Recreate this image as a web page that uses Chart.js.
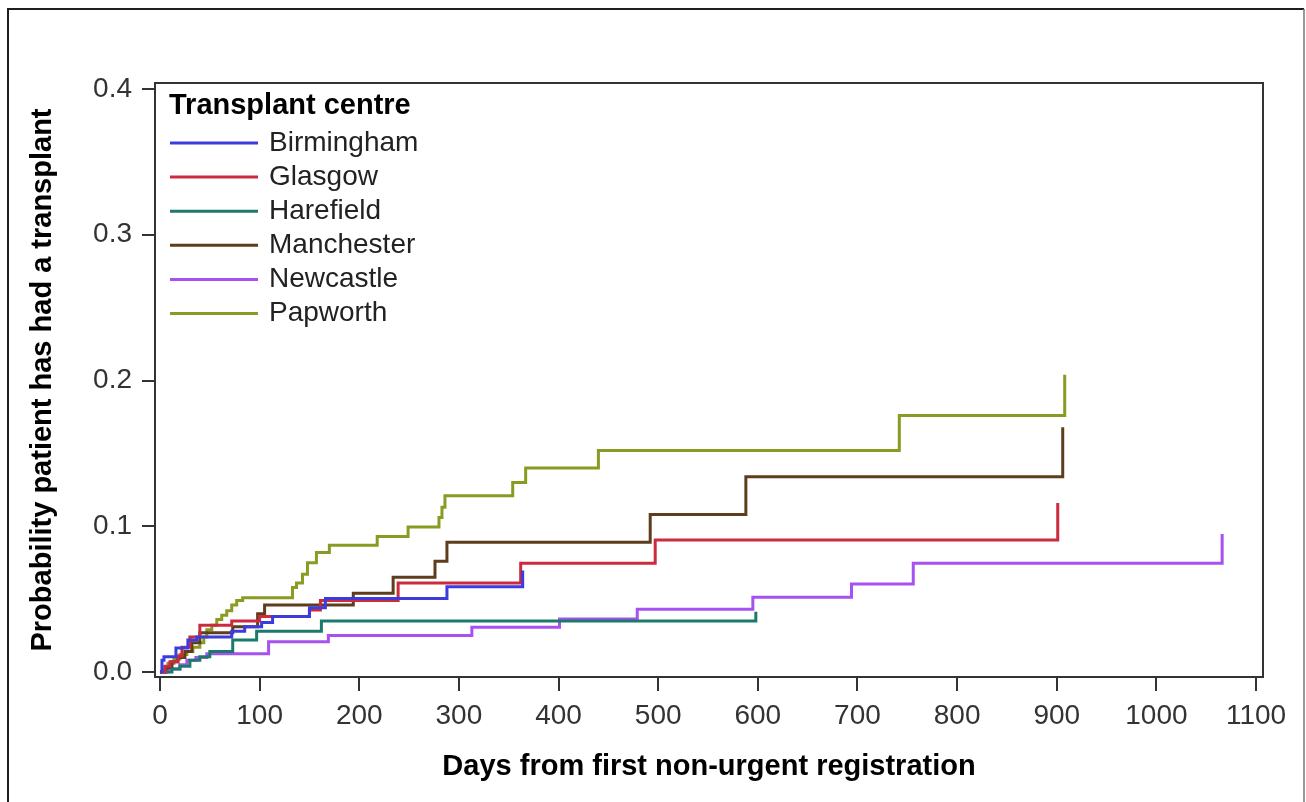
<!DOCTYPE html>
<html>
<head>
<meta charset="utf-8">
<script src="https://cdn.jsdelivr.net/npm/chart.js@4.4.1/dist/chart.umd.min.js"></script>
<style>
  body { margin: 0; background: #fff; }
  canvas { display: block; }
</style>
</head>
<body>
<canvas id="grafico" width="1306" height="802"></canvas>
<script>
// datos (dia del salto, probabilidad despues del salto)
const centros = ['Birmingham', 'Glasgow', 'Harefield', 'Manchester', 'Newcastle', 'Papworth'];
const colores = ['#3c3cde', '#cc2b3d', '#1c7a6d', '#5e3d1d', '#a752f0', '#8a9b24'];

const birminghamDias = [0, 2, 4, 16, 28, 37, 72, 85, 102, 113, 150, 166, 288, 364];
const birminghamProb = [0, 0.008, 0.0105, 0.0165, 0.022, 0.024, 0.028, 0.031, 0.034, 0.038, 0.044, 0.0505, 0.0585, 0.0697];

const glasgowDias = [0, 5, 10, 18, 22, 30, 40, 72, 100, 150, 161, 239, 362, 497, 901];
const glasgowProb = [0, 0.004, 0.007, 0.011, 0.017, 0.024, 0.032, 0.035, 0.038, 0.0425, 0.049, 0.061, 0.0746, 0.0906, 0.116];

const harefieldDias = [0, 12, 20, 30, 40, 50, 73, 97, 162, 598];
const harefieldProb = [0, 0.002, 0.004, 0.008, 0.0105, 0.014, 0.022, 0.028, 0.035, 0.0414];

const manchesterDias = [0, 6, 12, 18, 25, 32, 40, 73, 98, 105, 194, 234, 276, 288, 492, 588, 906];
const manchesterProb = [0, 0.003, 0.007, 0.010, 0.014, 0.020, 0.027, 0.031, 0.040, 0.046, 0.054, 0.065, 0.076, 0.089, 0.108, 0.134, 0.168];

const newcastleDias = [0, 8, 20, 27, 36, 47, 109, 169, 313, 401, 479, 595, 694, 756, 1066];
const newcastleProb = [0, 0.002, 0.005, 0.008, 0.010, 0.0125, 0.0208, 0.025, 0.0307, 0.0364, 0.043, 0.0513, 0.0604, 0.0746, 0.0947];

const papworthDias = [0, 3, 8, 14, 20, 27, 33, 40, 44, 47, 52, 57, 62, 67, 72, 77, 83, 133, 137, 143, 148, 157, 170, 218, 249, 280, 283, 286, 354, 367, 440, 742, 908];
const papworthProb = [0, 0.003, 0.006, 0.009, 0.012, 0.014, 0.017, 0.020, 0.024, 0.029, 0.032, 0.036, 0.039, 0.042, 0.046, 0.049, 0.051, 0.058, 0.061, 0.067, 0.075, 0.082, 0.087, 0.093, 0.0995, 0.106, 0.113, 0.121, 0.130, 0.140, 0.152, 0.176, 0.204];

const ticksX = [0, 100, 200, 300, 400, 500, 600, 700, 800, 900, 1000, 1100];
const ticksY = [0, 0.1, 0.2, 0.3, 0.4];

const series = [
  [birminghamDias, birminghamProb],
  [glasgowDias, glasgowProb],
  [harefieldDias, harefieldProb],
  [manchesterDias, manchesterProb],
  [newcastleDias, newcastleProb],
  [papworthDias, papworthProb]
];

const datasets = series.map((s, i) => ({
  label: centros[i],
  data: s[0].map((d, j) => ({ x: d, y: s[1][j] })),
  borderColor: colores[i],
  backgroundColor: colores[i],
  borderWidth: 3,
  stepped: true,
  pointRadius: 0,
  fill: false
}));

const EJE = '#333333';

// marco exterior, borde superior/derecho del area y leyenda interna
const marco = {
  id: 'marco',
  beforeDraw(chart) {
    const ctx = chart.ctx;
    ctx.save();
    ctx.fillStyle = '#fff';
    ctx.fillRect(0, 0, chart.width, chart.height);
    ctx.strokeStyle = '#1e1e1e';
    ctx.lineWidth = 2;
    ctx.beginPath();
    ctx.moveTo(8, chart.height + 5);
    ctx.lineTo(8, 9);
    ctx.lineTo(1304, 9);
    ctx.stroke();
    ctx.strokeStyle = '#777';
    ctx.lineWidth = 1.5;
    ctx.beginPath();
    ctx.moveTo(1304, 9);
    ctx.lineTo(1304, chart.height + 5);
    ctx.stroke();
    ctx.restore();
  },
  afterDraw(chart) {
    const ctx = chart.ctx;
    const a = chart.chartArea;
    ctx.save();
    ctx.strokeStyle = EJE;
    ctx.lineWidth = 2;
    ctx.beginPath();
    ctx.moveTo(a.left, a.top);
    ctx.lineTo(a.right, a.top);
    ctx.lineTo(a.right, a.bottom);
    ctx.stroke();

    // leyenda
    ctx.fillStyle = '#000';
    ctx.textBaseline = 'middle';
    ctx.textAlign = 'left';
    ctx.font = 'bold 29px "Liberation Sans", Arial, sans-serif';
    ctx.fillText('Transplant centre', 169, 106);
    ctx.font = '28px "Liberation Sans", Arial, sans-serif';
    chart.data.datasets.forEach((ds, i) => {
      const y = 143 + i * 34.1;
      ctx.strokeStyle = ds.borderColor;
      ctx.lineWidth = 3;
      ctx.beginPath();
      ctx.moveTo(170, y);
      ctx.lineTo(258, y);
      ctx.stroke();
      ctx.fillStyle = '#222';
      ctx.fillText(ds.label, 269, y);
    });
    ctx.restore();
  }
};

const ctx = document.getElementById('grafico');
const chart1 = new Chart(ctx, {
  type: 'line',
  data: { datasets: datasets },
  plugins: [marco],
  options: {
    responsive: false,
    animation: false,
    devicePixelRatio: 1,
    layout: { padding: { top: 83, right: 43, left: 0, bottom: 0 } },
    plugins: {
      legend: { display: false },
      tooltip: { enabled: false }
    },
    scales: {
      x: {
        type: 'linear',
        min: -5,
        max: 1107,
        afterFit: (s) => { s.height = 125; },
        afterBuildTicks: (s) => { s.ticks = ticksX.map(v => ({ value: v })); },
        grid: { drawOnChartArea: false, drawTicks: true, tickLength: 14, color: EJE, lineWidth: 2 },
        border: { display: true, color: EJE, width: 2 },
        ticks: {
          autoSkip: false,
          maxRotation: 0,
          padding: 8,
          color: '#333',
          font: { family: '"Liberation Sans", Arial, sans-serif', size: 28 },
          callback: (v) => v
        },
        title: {
          display: true,
          text: 'Days from first non-urgent registration',
          color: '#000',
          font: { family: '"Liberation Sans", Arial, sans-serif', size: 29, weight: 'bold' },
          padding: { top: 0, bottom: 18 }
        }
      },
      y: {
        type: 'linear',
        min: -0.00343,
        max: 0.40412,
        afterFit: (s) => { s.width = 155; },
        afterBuildTicks: (s) => { s.ticks = ticksY.map(v => ({ value: v })); },
        grid: { drawOnChartArea: false, drawTicks: true, tickLength: 13, color: EJE, lineWidth: 2 },
        border: { display: true, color: EJE, width: 2 },
        ticks: {
          autoSkip: false,
          padding: 10,
          color: '#333',
          font: { family: '"Liberation Sans", Arial, sans-serif', size: 28 },
          callback: (v) => v.toFixed(1)
        },
        title: {
          display: true,
          text: 'Probability patient has had a transplant',
          color: '#000',
          font: { family: '"Liberation Sans", Arial, sans-serif', size: 29, weight: 'bold' },
          padding: { top: 26, bottom: 0 }
        }
      }
    }
  }
});
</script>
</body>
</html>
